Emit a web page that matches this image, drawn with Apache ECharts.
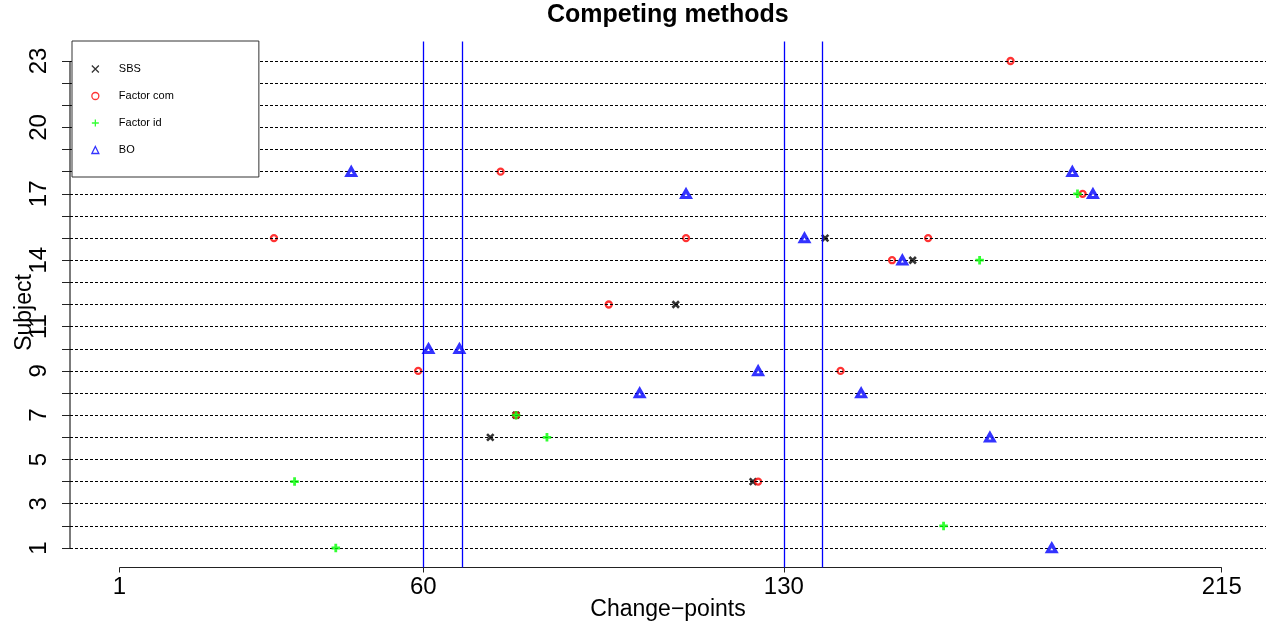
<!DOCTYPE html>
<html><head><meta charset="utf-8">
<script src="https://cdn.jsdelivr.net/npm/echarts@6/dist/echarts.min.js"></script>
<style>html,body{margin:0;padding:0;background:#fff}#c{width:1269px;height:627px}</style>
</head><body><div id="c"></div>
<script>
// ---- data ----
const seriesNames = ['SBS', 'Factor com', 'Factor id', 'BO'];
const sbsX = [138, 155, 109, 78, 73, 124];
const sbsY = [15, 14, 12, 7, 6, 4];
const comX = [174, 75, 188, 31, 111, 158, 151, 96, 59, 141, 78, 125];
const comY = [23, 18, 17, 15, 15, 15, 14, 12, 9, 9, 7, 4];
const idX = [187, 168, 78, 84, 35, 161, 43];
const idY = [17, 14, 7, 6, 4, 2, 1];
const boX = [46, 186, 111, 190, 134, 153, 61, 67, 125, 102, 145, 170, 182];
const boY = [18, 18, 17, 17, 15, 14, 10, 10, 9, 8, 8, 6, 1];
const changeLines = [60, 67.5, 130, 137.5];
const xTickLabels = [1, 60, 130, 215];
const yTicks = [1,2,3,4,5,6,7,8,9,10,11,12,13,14,15,16,17,18,19,20,21,22,23];
const yTickLabels = [1, 3, 5, 7, 9, 11, 14, 17, 20, 23];
const xLim = [0, 215];
const yLim = [1, 23];

// R-like 4% axis extension
const xMin = xLim[0] - 0.04 * (xLim[1] - xLim[0]);
const xMax = xLim[1] + 0.04 * (xLim[1] - xLim[0]);
const yMin = yLim[0] - 0.04 * (yLim[1] - yLim[0]);
const yMax = yLim[1] + 0.04 * (yLim[1] - yLim[0]);

const FONT = '"Liberation Sans", Arial, Helvetica, sans-serif';
const pairs = (xs, ys) => xs.map((x, i) => [x, ys[i]]);

const chart = echarts.init(document.getElementById('c'), null, {renderer: 'canvas'});
chart.setOption({
  animation: false,
  backgroundColor: '#fff',
  textStyle: {fontFamily: FONT},
  title: {
    text: 'Competing methods', left: 547, top: 3, padding: 0,
    textStyle: {fontFamily: FONT, fontSize: 25, fontWeight: 'bold', color: '#000'}
  },
  legend: {
    orient: 'vertical', left: 72, top: 41,
    padding: [21.5, 85, 20.5, 19.2],
    itemWidth: 7, itemHeight: 7, itemGap: 14,
    selectedMode: false,
    backgroundColor: '#fff', borderColor: '#333', borderWidth: 1,
    textStyle: {fontFamily: FONT, fontSize: 11, color: '#000', lineHeight: 13, padding: [0, 0, 0, 15]},
    data: [
      {name: seriesNames[0], itemStyle: {borderWidth: 1.3}},
      {name: seriesNames[1], itemStyle: {borderWidth: 1.3}},
      {name: seriesNames[2], itemStyle: {borderWidth: 1.3}},
      {name: seriesNames[3], itemStyle: {borderWidth: 1.3}}
    ],
    z: 10
  },
  grid: {left: 70, right: 3, top: 41.5, bottom: 59.5, containLabel: false, outerBoundsMode: 'none'},
  xAxis: {
    type: 'value', min: xMin, max: xMax,
    axisLine: {show: false, onZero: false}, splitLine: {show: false},
    axisTick: {show: true, customValues: xTickLabels, length: 5, lineStyle: {color: '#222', width: 1}},
    axisLabel: {customValues: xTickLabels, fontSize: 24, color: '#000', margin: 8, fontFamily: FONT},
    name: 'Change\u2212points', nameLocation: 'middle', nameGap: 31, nameMoveOverlap: false,
    nameTextStyle: {fontSize: 23, color: '#000', fontFamily: FONT}
  },
  yAxis: {
    type: 'value', min: yMin, max: yMax,
    axisLine: {show: false, onZero: false}, splitLine: {show: false},
    axisTick: {show: true, customValues: yTicks, length: 8, lineStyle: {color: '#222', width: 1}},
    axisLabel: {customValues: yTickLabels, fontSize: 24, color: '#000', margin: 19, rotate: 90, fontFamily: FONT},
    name: 'Subject', nameLocation: 'middle', nameGap: 34, nameMoveOverlap: false,
    nameTextStyle: {fontSize: 23, color: '#000', fontFamily: FONT, padding: [0, 16, 0, 0]}
  },
  series: [
    {
      name: 'xaxisline', type: 'line', silent: true, clip: false, z: 1,
      data: [[xTickLabels[0], yMin], [xTickLabels[xTickLabels.length - 1], yMin]],
      symbol: 'none', lineStyle: {color: '#222', width: 1.2},
      markLine: {
        silent: true, symbol: ['none', 'none'], label: {show: false},
        lineStyle: {color: '#000', width: 1, type: [3, 2]},
        emphasis: {disabled: true},
        data: yTicks.map(v => ({yAxis: v}))
      }
    },
    {
      name: 'yaxisline', type: 'line', silent: true, clip: false, z: 1,
      data: [[xMin, yTicks[0]], [xMin, yTicks[yTicks.length - 1]]],
      symbol: 'none', lineStyle: {color: '#222', width: 1.2},
      markLine: {
        silent: true, symbol: ['none', 'none'], label: {show: false},
        lineStyle: {color: '#0000FF', width: 1.3, type: 'solid'},
        emphasis: {disabled: true},
        data: changeLines.map(v => ({xAxis: v}))
      }
    },
    {
      name: seriesNames[0], type: 'scatter', z: 3,
      data: pairs(sbsX, sbsY),
      symbol: 'path://M0,0L10,10M10,0L0,10', symbolSize: 6.5,
      itemStyle: {color: 'rgba(0,0,0,0)', borderColor: '#000', borderWidth: 2.6}
    },
    {
      name: seriesNames[1], type: 'scatter', z: 4,
      data: pairs(comX, comY),
      symbol: 'circle', symbolSize: 6,
      itemStyle: {color: '#fff', borderColor: '#FF0000', borderWidth: 2.3}
    },
    {
      name: seriesNames[2], type: 'scatter', z: 5,
      data: pairs(idX, idY),
      symbol: 'path://M5,0L5,10M0,5L10,5', symbolSize: 8.5,
      itemStyle: {color: 'rgba(0,0,0,0)', borderColor: '#00FF00', borderWidth: 2.8}
    },
    {
      name: seriesNames[3], type: 'scatter', z: 6,
      data: pairs(boX, boY),
      symbol: 'triangle', symbolSize: [8.5, 7.5],
      itemStyle: {color: '#fff', borderColor: '#0000FF', borderWidth: 3.2}
    }
  ]
});
</script>
</body></html>
